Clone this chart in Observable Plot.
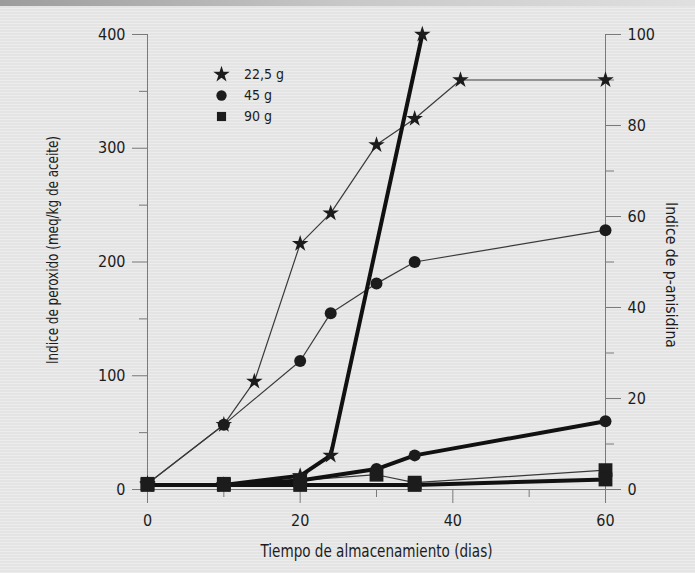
<!DOCTYPE html>
<html>
<head>
<meta charset="utf-8">
<script src="https://cdn.jsdelivr.net/npm/d3@7"></script>
<script src="https://cdn.jsdelivr.net/npm/@observablehq/plot@0.6"></script>
<style>
  html, body { margin: 0; padding: 0; }
  body {
    width: 695px; height: 573px; overflow: hidden; position: relative;
    background: repeating-linear-gradient(to bottom, #e4e4e4 0px, #e4e4e4 2px, #ececec 2px, #ececec 3px);
    font-family: 'DejaVu Sans Condensed', 'Liberation Sans', sans-serif;
  }
  #band { position: absolute; left: 0; top: 0; width: 695px; height: 6px;
    background: linear-gradient(to right, #9c9c9c, #c8c8c8 50%, #e0e0e0); }
  #chart { position: absolute; left: 0; top: 0; }
  #legend { position: absolute; left: 214px; top: 66px; }
  #legend .lg-swatch { padding-bottom: 5px; }
  #legend .lg-swatch > svg { margin-right: 15px; }
</style>
</head>
<body>
<div id="band"></div>
<div id="chart"></div>
<div id="legend"></div>
<script>
// ---- data ----
const seriesNames = ["22,5 g", "45 g", "90 g"];
const seriesSymbols = ["star", "circle", "square"];

// Índice de peróxido (left axis, thin lines)
const peroxDays22 = [0, 10, 14, 20, 24, 30, 35, 41, 60];
const perox22     = [5, 57, 95, 216, 243, 303, 326, 360, 360];
const peroxDays45 = [0, 10, 20, 24, 30, 35, 60];
const perox45     = [5, 57, 113, 155, 181, 200, 228];
const peroxDays90 = [0, 10, 20, 30, 35, 60];
const perox90     = [5, 5, 8, 13, 6, 17];

// Índice de p-anisidina (right axis, thick lines)
const anisDays22 = [0, 10, 20, 24, 36];
const anis22     = [1, 1, 3, 7.5, 100];
const anisDays45 = [0, 10, 20, 30, 35, 60];
const anis45     = [1, 1, 2, 4.5, 7.5, 15];
const anisDays90 = [0, 10, 20, 35, 60];
const anis90     = [1, 1, 1, 1, 2.2];

const xTicks = [0, 20, 40, 60];
const xMinor = [10, 30, 50];
const yLeftTicks = [0, 100, 200, 300, 400];
const yLeftMinor = [50, 150, 250, 350];
const yRightTicks = [0, 20, 40, 60, 80, 100];
const yRightMinor = [10, 30, 50, 70, 90];

const xLabel = "Tiempo de almacenamiento (dias)";
const yLeftLabel = "Indice de peroxido (meq/kg de aceite)";
const yRightLabel = "Indice de p-anisidina";

// ---- build tables ----
const k = 4; // right axis (0-100) mapped onto left axis (0-400)
function rows(days, vals, name, scale) {
  return days.map((d, i) => ({day: d, v: vals[i] * scale, s: name}));
}
const perox = [
  ...rows(peroxDays22, perox22, seriesNames[0], 1),
  ...rows(peroxDays45, perox45, seriesNames[1], 1),
  ...rows(peroxDays90, perox90, seriesNames[2], 1)
];
const anis = [
  ...rows(anisDays22, anis22, seriesNames[0], k),
  ...rows(anisDays45, anis45, seriesNames[1], k),
  ...rows(anisDays90, anis90, seriesNames[2], k)
];
const rBy = {"star": 5.2, "circle": 6, "square": 7.8};
const symOf = Object.fromEntries(seriesNames.map((n, i) => [n, seriesSymbols[i]]));

const font = "'DejaVu Sans Condensed', 'Liberation Sans', sans-serif";
const axisGray = "#7a7a7a";
const ink = "#1c1c1c";

function dots(data) {
  return seriesNames.map(n => Plot.dot(data.filter(d => d.s === n), {
    x: "day", y: "v", symbol: () => symOf[n], r: rBy[symOf[n]], fill: ink, stroke: "none"
  }));
}

const chart = Plot.plot({
  width: 695, height: 573,
  marginLeft: 147, marginRight: 90, marginTop: 34, marginBottom: 84,
  style: {background: "transparent", fontFamily: font, fontSize: "16px", color: ink},
  x: {domain: [0, 60]},
  y: {domain: [0, 400]},
  symbol: {domain: seriesSymbols, range: seriesSymbols},
  marks: [
    Plot.ruleY([0], {stroke: axisGray, strokeWidth: 1}),
    Plot.ruleX([0], {stroke: axisGray, strokeWidth: 1}),
    Plot.ruleX([60], {stroke: axisGray, strokeWidth: 1}),
    Plot.axisX({ticks: xTicks, tickSize: 14, tickPadding: 11, stroke: axisGray, fill: ink, label: null, fontSize: 16}),
    Plot.axisX({ticks: xMinor, tickSize: 8, tickFormat: () => "", stroke: axisGray, label: null}),
    Plot.axisY({ticks: yLeftTicks, tickSize: 15, tickPadding: 7, stroke: axisGray, fill: ink, label: null, fontSize: 16}),
    Plot.axisY({ticks: yLeftMinor, tickSize: 8, tickFormat: () => "", stroke: axisGray, label: null}),
    Plot.axisY({anchor: "right", ticks: yRightTicks.map(t => t * k), tickFormat: d => d / k, tickSize: 15, tickPadding: 7, stroke: axisGray, fill: ink, label: null, fontSize: 16}),
    Plot.axisY({anchor: "right", ticks: yRightMinor.map(t => t * k), tickSize: 8, tickFormat: () => "", stroke: axisGray, label: null}),
    // thin lines: peroxide
    Plot.line(perox, {x: "day", y: "v", z: "s", stroke: "#3a3a3a", strokeWidth: 1.2}),
    // thick lines: p-anisidine
    Plot.line(anis, {x: "day", y: "v", z: "s", stroke: "#111", strokeWidth: 4, strokeLinejoin: "round"}),
    ...dots(perox),
    ...dots(anis),
    Plot.text([xLabel], {text: d => d, frameAnchor: "bottom", textAnchor: "middle", dy: 67, fontSize: 17, fill: ink}),
    Plot.text([yLeftLabel], {text: d => d, frameAnchor: "left", textAnchor: "middle", dx: -95, dy: -12, rotate: -90, fontSize: 16, fill: ink}),
    Plot.text([yRightLabel], {text: d => d, frameAnchor: "right", textAnchor: "middle", dx: 66, dy: 13, rotate: 90, fontSize: 16, fill: ink})
  ]
});
document.getElementById("chart").appendChild(chart);

// condense the axis titles to the narrow face of the original
const titleWidths = new Map([[xLabel, 232], [yLeftLabel, 228], [yRightLabel, 146]]);
d3.select(chart).selectAll("text").each(function () {
  const w = titleWidths.get(this.textContent);
  if (w) { this.setAttribute("textLength", w); this.setAttribute("lengthAdjust", "spacingAndGlyphs"); }
});

const legend = Plot.legend({
  symbol: {domain: seriesNames, range: seriesSymbols},
  columns: 1, className: "lg", fill: ink, stroke: "none", r: 5.5,
  style: {fontFamily: font, fontSize: "14px", color: ink, background: "transparent"}
});
document.getElementById("legend").appendChild(legend);
</script>
</body>
</html>
